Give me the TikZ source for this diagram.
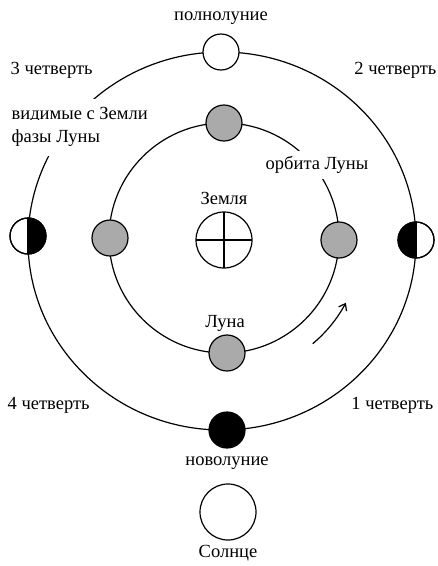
\documentclass[tikz,border=0pt]{standalone}
\usepackage{fontspec}
\setmainfont{Liberation Serif}
\usetikzlibrary{calc,arrows.meta}
\definecolor{moongray}{RGB}{170,170,170}
\begin{document}
\begin{tikzpicture}[x=1pt,y=1pt,
  orbit/.style={draw=black,line width=1.2pt},
  moon/.style={circle,draw=black,line width=1.2pt,minimum size=36pt,inner sep=0pt,outer sep=0pt},
  bigbody/.style={moon,minimum size=56pt,fill=white},
  lbl/.style={font=\fontsize{18.5}{20}\selectfont,fill=white,inner sep=1.5pt,text=black},
]
\useasboundingbox (0,0) rectangle (438,-566);
\coordinate (O) at (222,-241);
\coordinate (C) at (224,-238);
% orbits
\draw[orbit] (O) ellipse [x radius=194, y radius=189];
\draw[orbit] (C) circle [radius=115];
% arrow of motion
\coordinate (a1) at ($(C)+(-50:138)$);
\draw[orbit,-{Straight Barb[length=6pt,width=9pt]}] (a1) arc[start angle=-50,end angle=-28,radius=138];
% labels with white background
\node[lbl,anchor=west,inner ysep=8pt] (vis1) at (10,-115) {видимые с Земли};
\node[lbl,anchor=west,inner ysep=10pt] (vis2) at (10,-138) {фазы Луны};
\node[lbl,inner ysep=5pt] (orb) at (317,-165) {орбита Луны};
\node[lbl] (full-l) at (221,-18) {полнолуние};
\node[lbl,anchor=west] (q3-l) at (9,-70) {3 четверть};
\node[lbl,anchor=east] (q2-l) at (438,-70) {2 четверть};
\node[lbl] (earth-l) at (224,-198) {Земля};
\node[lbl] (moon-l) at (225,-323) {Луна};
\node[lbl,anchor=west] (q4-l) at (6,-405) {4 четверть};
\node[lbl,anchor=east] (q1-l) at (435,-405) {1 четверть};
\node[lbl] (new-l) at (227,-463) {новолуние};
\node[lbl] (sun-l) at (228,-553) {Солнце};
% visible phases on outer orbit
\node[moon,fill=white] (full) at (221,-52) {};
\node[moon,fill=black] (new) at (227,-430) {};
\node[moon,fill=white] (left) at (28,-236) {};
\fill[black] (left.north) arc[start angle=90,end angle=-90,radius=18] -- cycle;
\draw[line width=1.2pt] (left) circle[radius=18];
\draw[line width=1.2pt] (left.north) -- (left.south);
\node[moon,fill=white] (right) at (416,-240) {};
\fill[black] (right.north) arc[start angle=90,end angle=270,radius=18] -- cycle;
\draw[line width=1.2pt] (right) circle[radius=18];
\draw[line width=1.2pt] (right.north) -- (right.south);
% moon positions on inner orbit
\node[moon,fill=moongray] (m1) at (110,-238) {};
\node[moon,fill=moongray] (m2) at (339,-240) {};
\node[moon,fill=moongray] (m3) at (224,-123) {};
\node[moon,fill=moongray] (m4) at (227,-353) {};
% Earth
\node[bigbody] (earth) at (224,-240) {};
\draw[line width=1.2pt] (earth.north) -- (earth.south);
\draw[line width=1.2pt] (earth.west) -- (earth.east);
% Sun
\node[bigbody] (sun) at (228,-512) {};
\end{tikzpicture}
\end{document}
